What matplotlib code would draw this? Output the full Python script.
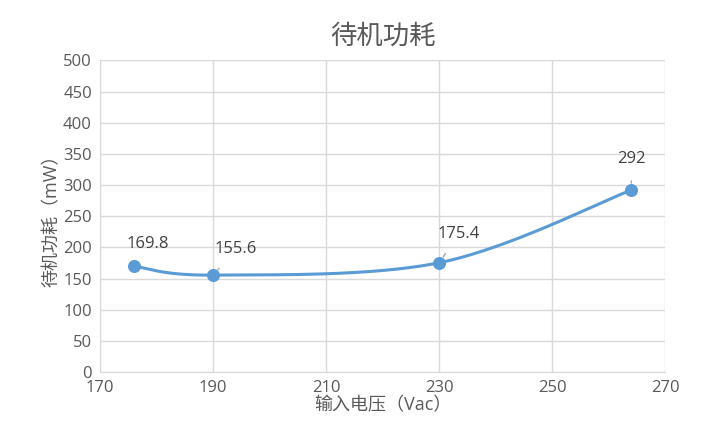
import numpy as np
import matplotlib
matplotlib.use("Agg")
import matplotlib.pyplot as plt

plt.rcParams['font.family'] = ['Open Sans', 'Noto Sans CJK SC', 'DejaVu Sans']

title = "待机功耗"
xlabel = "输入电压（Vac）"
ylabel = "待机功耗（mW）"
voltage = [176, 190, 230, 264]
power = [169.8, 155.6, 175.4, 292]
labels = ["169.8", "155.6", "175.4", "292"]
label_pos = [(178.5, 205), (194, 197), (233.5, 222), (264, 342)]

def catmull(xs, ys, n=60):
    P = np.column_stack([xs, ys]).astype(float)
    P = np.vstack([P[0], P, P[-1]])
    out = []
    for i in range(1, len(P) - 2):
        p0, p1, p2, p3 = P[i-1], P[i], P[i+1], P[i+2]
        c1 = p1 + (p2 - p0) / 6
        c2 = p2 - (p3 - p1) / 6
        t = np.linspace(0, 1, n)[:, None]
        out.append((1-t)**3*p1 + 3*(1-t)**2*t*c1 + 3*(1-t)*t**2*c2 + t**3*p2)
    return np.vstack(out)

fig = plt.figure(figsize=(7.01, 4.44), dpi=100)
ax = fig.add_axes([0.143, 0.162, 0.806, 0.702])
c = catmull(voltage, power)
ax.plot(c[:, 0], c[:, 1], color='#5b9bd5', lw=2.2, zorder=3)
ax.scatter(voltage, power, s=70, color='#5b9bd5', zorder=4)
for x, y, l, (lx, ly) in zip(voltage, power, labels, label_pos):
    ax.annotate(l, (x, y), xytext=(lx, ly), ha='center', va='center',
                fontsize=12, color='#404040',
                arrowprops=dict(arrowstyle='-', color='#a6a6a6', lw=1, shrinkA=8, shrinkB=5))
ax.set_xlim(170, 270)
ax.set_ylim(0, 500)
ax.set_xticks(range(170, 271, 20))
ax.set_yticks(range(0, 501, 50))
ax.grid(True, color='#d9d9d9', lw=1)
ax.set_axisbelow(True)
for s in ['top', 'right']:
    ax.spines[s].set_visible(False)
for s in ['left', 'bottom']:
    ax.spines[s].set_color('#d9d9d9')
ax.tick_params(length=0, labelsize=12, colors='#595959', pad=6)
ax.set_title(title, fontsize=19, color='#595959', pad=12)
ax.set_xlabel(xlabel, fontsize=13, color='#595959', labelpad=0)
ax.set_ylabel(ylabel, fontsize=13, color='#595959', labelpad=2)
fig.savefig("out.png")
